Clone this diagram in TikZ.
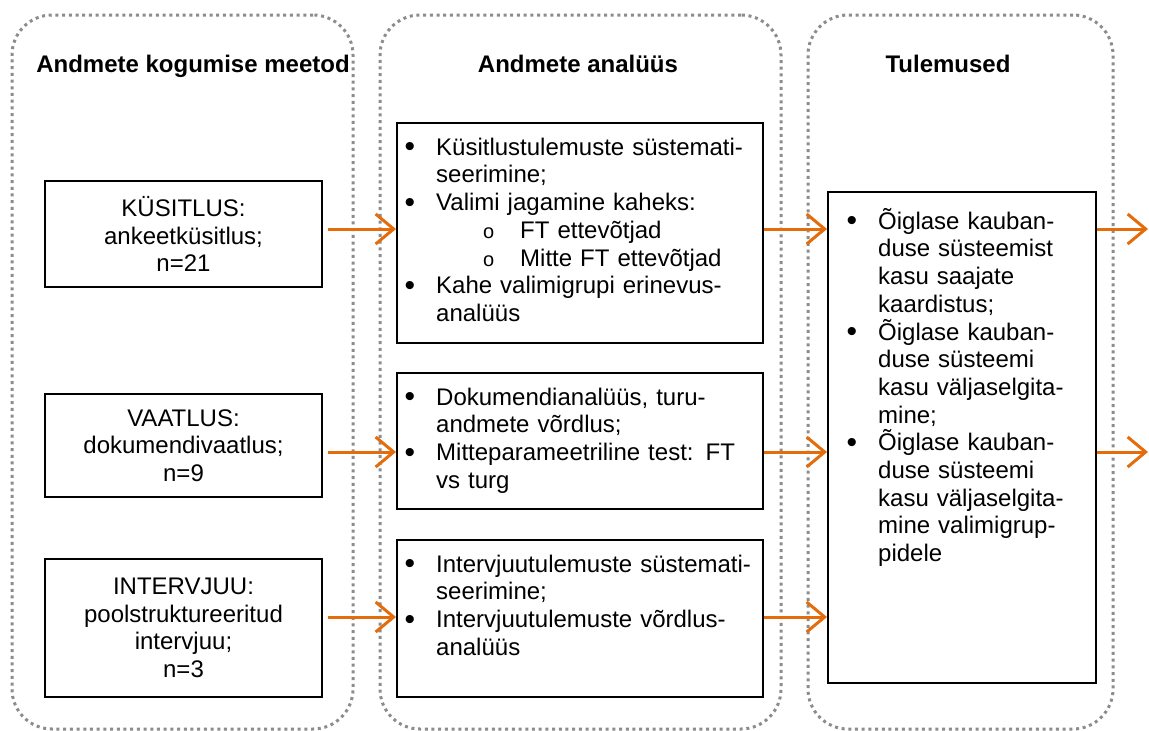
\documentclass[tikz,border=0pt]{standalone}
\usepackage{fontspec}
\setmainfont{Liberation Sans}
\usetikzlibrary{arrows.meta}
\definecolor{arrorange}{HTML}{E46C0A}
\definecolor{dotgray}{HTML}{8C8C8C}
\newcommand\mybul{\leavevmode\llap{\raisebox{-1.5pt}{\fontsize{30}{30}\selectfont •}\hspace{21pt}}}
\newcommand\mysub{\leavevmode\hspace*{84pt}\llap{{\fontsize{20}{20}\selectfont o}\hspace{26pt}}}
\newcommand\mystrut{\rule{0pt}{24pt}}
\tikzset{
  cont/.style={draw=dotgray, line width=3pt, dash pattern=on 3pt off 3.7pt, rounded corners=40pt, inner sep=0pt},
  box/.style={draw=black, line width=2pt, inner sep=0pt, align=center},
  ttl/.style={font=\fontsize{24}{27.7}\selectfont\bfseries, anchor=base, inner sep=0pt},
  txt/.style={font=\fontsize{24}{27.7}\selectfont, anchor=north west, inner sep=0pt, align=left},
  arr/.style={draw=arrorange, line width=3pt, -{Straight Barb[length=18pt,width=30pt]}},
}
\begin{document}
\begin{tikzpicture}[x=1pt,y=-1pt]
\useasboundingbox (0,0) rectangle (1149,731);
% containers
\node[cont, minimum width=341pt, minimum height=714pt] (c1) at (182.5,372) {};
\node[cont, minimum width=401pt, minimum height=714pt] (c2) at (580.5,372) {};
\node[cont, minimum width=305pt, minimum height=714pt] (c3) at (960.5,372) {};
% titles
\node[ttl] (t1) at (193,72) {Andmete kogumise meetod};
\node[ttl] (t2) at (578,72) {Andmete analüüs};
\node[ttl] (t3) at (948,72) {Tulemused};
% left boxes
\node[box, font=\fontsize{24}{27.7}\selectfont, minimum width=277pt, minimum height=106pt] (kys) at (183.5,234) {KÜSITLUS:\\ankeetküsitlus;\\n=21};
\node[box, font=\fontsize{24}{27.7}\selectfont, minimum width=277pt, minimum height=103pt] (vaa) at (183.5,445.5) {VAATLUS:\\dokumendivaatlus;\\n=9};
\node[box, font=\fontsize{24}{27.7}\selectfont, minimum width=277pt, minimum height=138pt] (int) at (183.5,628) {INTERVJUU:\\poolstruktureeritud\\intervjuu;\\n=3};
% middle boxes
\node[box, minimum width=366pt, minimum height=220pt] (b1) at (580,233) {};
\node[box, minimum width=366pt, minimum height=136pt] (b2) at (580,441) {};
\node[box, minimum width=366pt, minimum height=157pt] (b3) at (580,618.5) {};
% right box
\node[box, minimum width=268pt, minimum height=491pt] (r) at (962,437.5) {};
% texts
\node[txt, text width=330pt] (b1t) at (436,131) {\mystrut\mybul Küsitlustulemuste süstemati-\\seerimine;\\\mybul Valimi jagamine kaheks:\\\mysub FT ettevõtjad\\\mysub Mitte FT ettevõtjad\\\mybul Kahe valimigrupi erinevus-\\analüüs};
\node[txt, text width=330pt] (b2t) at (436,381) {\mystrut\mybul Dokumendianalüüs, turu-\\andmete võrdlus;\\\mybul Mitteparameetriline test: FT\\vs turg};
\node[txt, text width=330pt] (b3t) at (436,548) {\mystrut\mybul Intervjuutulemuste süstemati-\\seerimine;\\\mybul Intervjuutulemuste võrdlus-\\analüüs};
\node[txt, text width=215pt] (rt) at (878,205) {\mystrut\mybul Õiglase kauban-\\duse süsteemist\\kasu saajate\\kaardistus;\\\mybul Õiglase kauban-\\duse süsteemi\\kasu väljaselgita-\\mine;\\\mybul Õiglase kauban-\\duse süsteemi\\kasu väljaselgita-\\mine valimigrup-\\pidele};
% free ends
\coordinate (o1) at (1148,229);
\coordinate (o2) at (1148,452);
% arrows
\draw[arr, shorten <=5pt] (kys.east |- 0,229) -- (b1.west |- 0,229);
\draw[arr, shorten <=5pt] (vaa.east |- 0,452) -- (b2.west |- 0,452);
\draw[arr, shorten <=5pt] (int.east |- 0,617) -- (b3.west |- 0,617);
\draw[arr] (b1.east |- 0,229) -- (r.west |- 0,229);
\draw[arr] (b2.east |- 0,452) -- (r.west |- 0,452);
\draw[arr] (b3.east |- 0,617) -- (r.west |- 0,617);
\draw[arr] (r.east |- 0,229) -- (o1);
\draw[arr] (r.east |- 0,452) -- (o2);
\end{tikzpicture}
\end{document}
